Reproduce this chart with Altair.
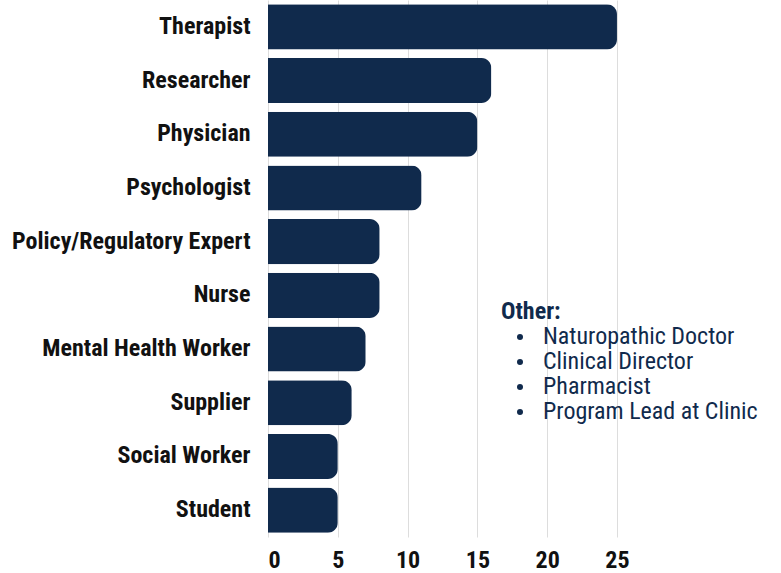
import altair as alt
import pandas as pd

roles = ["Therapist", "Researcher", "Physician", "Psychologist", "Policy/Regulatory Expert",
         "Nurse", "Mental Health Worker", "Supplier", "Social Worker", "Student"]
counts = [25, 16, 15, 11, 8, 8, 7, 6, 5, 5]
other_title = "Other:"
other_items = ["Naturopathic Doctor", "Clinical Director", "Pharmacist", "Program Lead at Clinic"]
tick_values = [0, 5, 10, 15, 20, 25]

NAVY = "#102a4c"
FONT = "Roboto Condensed, Liberation Sans Narrow, Roboto, sans-serif"

df = pd.DataFrame({"role": roles, "count": counts})

bars = alt.Chart(df).mark_bar(color=NAVY, cornerRadiusEnd=10).encode(
    x=alt.X("count:Q", scale=alt.Scale(domain=[0, 36.75], nice=False, zero=True),
            axis=alt.Axis(values=tick_values, title=None, domain=False, ticks=False,
                          labelFont=FONT, labelFontSize=24, labelFontWeight="bold",
                          labelColor="#111111", labelPadding=11,
                          grid=True, gridColor="#dddddd", gridWidth=1)),
    y=alt.Y("role:N", sort=roles, scale=alt.Scale(paddingInner=0.16, paddingOuter=0.08),
            axis=alt.Axis(title=None, domain=False, ticks=False, labelFont=FONT,
                          labelFontSize=24, labelFontWeight="bold", labelColor="#111111",
                          labelPadding=18, labelLimit=0, grid=False)),
)

title_df = pd.DataFrame({"t": [other_title]})
title_text = alt.Chart(title_df).mark_text(
    font=FONT, fontSize=24, fontWeight="bold", color=NAVY, align="left", baseline="middle"
).encode(text="t:N", x=alt.value(233), y=alt.value(312))

items_df = pd.DataFrame({"item": other_items, "order": list(range(len(other_items)))})
yitem = alt.Y("order:Q", scale=alt.Scale(domain=[0, 3], range=[337, 412], nice=False, zero=False),
              axis=None)
items_text = alt.Chart(items_df).mark_text(
    font=FONT, fontSize=24, color=NAVY, align="left", baseline="middle"
).encode(text="item:N", x=alt.value(275), y=yitem)
bullets = alt.Chart(items_df).mark_point(
    shape="circle", filled=True, size=36, color=NAVY, opacity=1
).encode(x=alt.value(252), y=yitem)

chart = alt.layer(bars, title_text, items_text, bullets).resolve_scale(y="independent").properties(
    width=513, height=537,
    background="white",
    padding={"left": 268, "top": 0, "right": 0, "bottom": 36},
    autosize=alt.AutoSizeParams(type="none"),
).configure_view(stroke=None, strokeWidth=0)

chart.save("out.html", embed_options={"renderer": "svg", "actions": False})
